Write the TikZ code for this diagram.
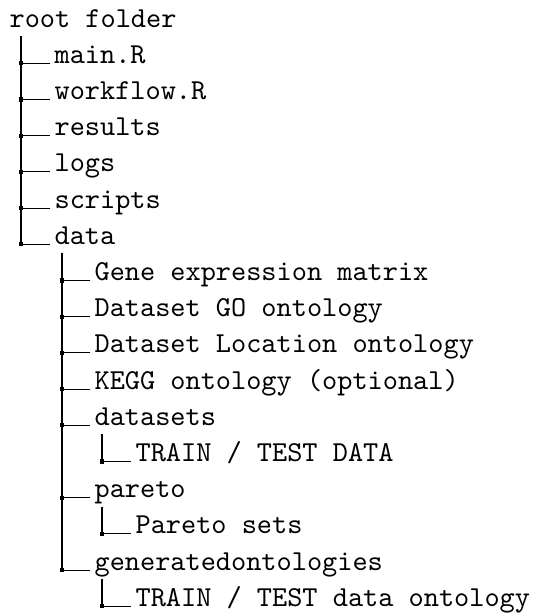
\documentclass[tikz,border=0pt]{standalone}
\usepackage{tikz}

\tikzset{
  entry/.style={anchor=base west,inner sep=0pt,font=\ttfamily},
  branch/.style={line width=0.4pt},
  knot/.style={rectangle,fill=black,inner sep=0pt,minimum size=1.4pt},
}
% #1 parent, #2 child, #3 offset of the vertical stroke
\newcommand{\twig}[3]{%
  \draw[branch] ([xshift=#3,yshift=-3.1pt]#1.base west) |- node[knot]{} ([xshift=-1.4pt]#2.base west);}

\begin{document}
\begin{tikzpicture}[x=0.346pt,y=-0.346pt]
\useasboundingbox (0,0) rectangle (537,615);

\node[entry] (root) at (9,27.1) {root folder};
\node[entry] (main) at (54,63.3) {main.R};
\node[entry] (workflow) at (54,99.5) {workflow.R};
\node[entry] (results) at (54,135.7) {results};
\node[entry] (logs) at (54,171.9) {logs};
\node[entry] (scripts) at (54,208.1) {scripts};
\node[entry] (data) at (54,244.3) {data};
\node[entry] (gene) at (94,280.5) {Gene expression matrix};
\node[entry] (dsgo) at (94,316.7) {Dataset GO ontology};
\node[entry] (dsloc) at (94,352.9) {Dataset Location ontology};
\node[entry] (kegg) at (94,389.1) {KEGG ontology (optional)};
\node[entry] (datasets) at (94,425.3) {datasets};
\node[entry] (trainset) at (135,461.5) {TRAIN / TEST DATA};
\node[entry] (pareto) at (94,497.7) {pareto};
\node[entry] (paretosets) at (135,533.9) {Pareto sets};
\node[entry] (genonto) at (94,570.1) {generatedontologies};
\node[entry] (trainonto) at (135,606.3) {TRAIN / TEST data ontology};

% first level
\foreach \c in {main,workflow,results,logs,scripts,data}
  {\twig{root}{\c}{4.15pt}}
% inside data
\foreach \c in {gene,dsgo,dsloc,kegg,datasets,pareto,genonto}
  {\twig{data}{\c}{2.77pt}}
% one file each
\twig{datasets}{trainset}{2.77pt}
\twig{pareto}{paretosets}{2.77pt}
\twig{genonto}{trainonto}{2.77pt}
\end{tikzpicture}
\end{document}
